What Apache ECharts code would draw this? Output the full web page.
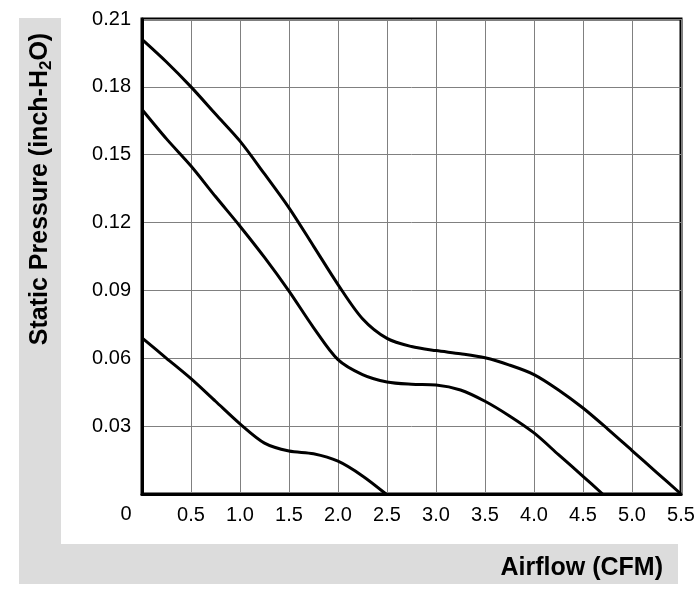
<!DOCTYPE html>
<html>
<head>
<meta charset="utf-8">
<script src="https://cdn.jsdelivr.net/npm/echarts@6/dist/echarts.min.js"></script>
<style>
html, body { margin: 0; padding: 0; background: #fff; }
#main { width: 700px; height: 590px; }
</style>
</head>
<body>
<div id="main"></div>
<script>
// fan curves: [airflow CFM, static pressure inch-H2O]
var highSpeed = [
	[0, 0.201], [0.25, 0.191], [0.5, 0.180], [0.75, 0.168], [1.0, 0.156],
	[1.25, 0.1415], [1.5, 0.1265], [1.75, 0.1096], [2.0, 0.0926], [2.25, 0.0775],
	[2.5, 0.0688], [2.75, 0.0652], [3.0, 0.0634], [3.25, 0.062], [3.5, 0.0602],
	[3.75, 0.057], [4.0, 0.0528], [4.25, 0.046], [4.5, 0.038], [4.75, 0.0288],
	[5.0, 0.0192], [5.25, 0.0096], [5.5, 0]
];
var midSpeed = [
	[0, 0.170], [0.25, 0.157], [0.5, 0.145], [0.75, 0.1315], [1.0, 0.1184],
	[1.25, 0.1046], [1.5, 0.0897], [1.75, 0.0736], [2.0, 0.0594], [2.25, 0.0528],
	[2.5, 0.0495], [2.75, 0.0485], [3.0, 0.0482], [3.25, 0.046], [3.5, 0.041],
	[3.75, 0.0345], [4.0, 0.027], [4.25, 0.0174], [4.5, 0.0078], [4.7, 0]
];
var lowSpeed = [
	[0, 0.069], [0.25, 0.060], [0.5, 0.051], [0.75, 0.041], [1.0, 0.031],
	[1.25, 0.0225], [1.5, 0.019], [1.75, 0.0178], [2.0, 0.0145], [2.25, 0.008],
	[2.49, 0]
];

var xTicks = { min: 0, max: 5.5, interval: 0.5 };
var yTicks = { min: 0, max: 0.21, interval: 0.03 };

var font = 'Liberation Sans, Arial, sans-serif';

function curve(data) {
	return {
		type : 'line',
		data : data,
		smooth : 0.3,
		symbol : 'none',
		lineStyle : { color : '#000', width : 3 }
	};
}

var myChart = echarts.init(document.getElementById('main'));
myChart.setOption({
	animation : false,
	backgroundColor : '#fff',
	grid : {
		left : 142, top : 19, right : 19, bottom : 96,
		show : true, borderColor : '#000', borderWidth : 3
	},
	xAxis : {
		type : 'value',
		min : xTicks.min, max : xTicks.max, interval : xTicks.interval,
		axisLine : { lineStyle : { color : '#000', width : 3 } },
		axisTick : { show : false },
		splitLine : { lineStyle : { color : '#808080', width : 1 } },
		axisLabel : {
			color : '#000', fontSize : 20, fontFamily : font, margin : 11,
			formatter : function(v) { return v === 0 ? '' : v.toFixed(1); }
		}
	},
	yAxis : {
		type : 'value',
		min : yTicks.min, max : yTicks.max, interval : yTicks.interval,
		axisLine : { lineStyle : { color : '#000', width : 3 } },
		axisTick : { show : false },
		splitLine : { lineStyle : { color : '#808080', width : 1 } },
		axisLabel : {
			color : '#000', fontSize : 20, fontFamily : font, margin : 11,
			formatter : function(v) { return v === 0 ? '' : v.toFixed(2); }
		}
	},
	graphic : [
		{ type : 'rect', z : -10, shape : { x : 19, y : 18, width : 42, height : 566 }, style : { fill : '#dcdcdc' } },
		{ type : 'rect', z : -10, shape : { x : 19, y : 544, width : 659, height : 40 }, style : { fill : '#dcdcdc' } },
		{
			type : 'text', rotation : Math.PI / 2,
			x : 40, y : 189,
			style : {
				text : '{a|Static Pressure (inch-H}{s|2}{a|O)}',
				align : 'center', verticalAlign : 'middle',
				rich : {
					a : { fontSize : 25, fontWeight : 'bold', fontFamily : font, fill : '#000', lineHeight : 30 },
					s : { fontSize : 17, fontWeight : 'bold', fontFamily : font, fill : '#000', lineHeight : 30, verticalAlign : 'bottom' }
				}
			}
		},
		{
			type : 'text', x : 663, y : 568,
			style : {
				text : 'Airflow (CFM)', align : 'right', verticalAlign : 'middle',
				fontSize : 25, fontWeight : 'bold', fontFamily : font, fill : '#000'
			}
		},
		{
			type : 'text', x : 126, y : 514,
			style : {
				text : '0', align : 'center', verticalAlign : 'middle',
				fontSize : 20, fontFamily : font, fill : '#000'
			}
		}
	],
	series : [ curve(highSpeed), curve(midSpeed), curve(lowSpeed) ]
});
</script>
</body>
</html>
